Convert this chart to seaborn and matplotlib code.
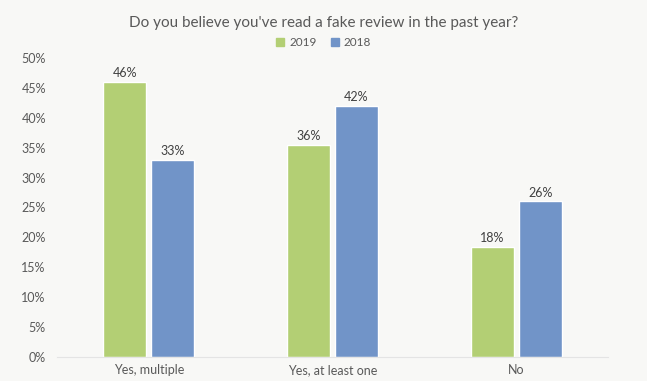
import matplotlib
matplotlib.use("Agg")
import matplotlib.pyplot as plt
import seaborn as sns
import pandas as pd
from matplotlib.ticker import PercentFormatter
from matplotlib.patches import Patch

categories = ["Yes, multiple", "Yes, at least one", "No"]
series_2019 = [0.46, 0.355, 0.184]
series_2018 = [0.33, 0.42, 0.26]
labels_2019 = ["46%", "36%", "18%"]
labels_2018 = ["33%", "42%", "26%"]
years = ["2019", "2018"]

df = pd.DataFrame({
    "cat": categories * 2,
    "val": series_2019 + series_2018,
    "year": [years[0]] * 3 + [years[1]] * 3,
})

bg = "#f8f8f6"
txt = "#595959"
sns.set_theme(style="white")
plt.rcParams["font.family"] = ["Lato", "DejaVu Sans"]

fig = plt.figure(figsize=(6.47, 3.81), dpi=100, facecolor=bg)
ax = fig.add_axes([0.088, 0.063, 0.852, 0.785], facecolor=bg)

palette = {"2019": "#b3cf74", "2018": "#7194c8"}
sns.barplot(data=df, x="cat", y="val", hue="year", order=categories,
            hue_order=years, palette=palette, width=0.52, gap=0.1,
            saturation=1, ax=ax, legend=False)

for cont, labs in zip(ax.containers, [labels_2019, labels_2018]):
    ax.bar_label(cont, labels=labs, padding=2, fontsize=9, color="#404040")

ax.set_xlim(-0.5, 2.5)
ax.set_ylim(0, 0.5)
ax.set_yticks([i * 0.05 for i in range(11)])
ax.yaxis.set_major_formatter(PercentFormatter(1.0, decimals=0))
ax.tick_params(axis="y", labelsize=9, colors=txt, length=0, pad=8)
ax.tick_params(axis="x", labelsize=9, colors=txt, length=0, pad=5)
ax.set_xlabel("")
ax.set_ylabel("")
for s in ["top", "right", "left"]:
    ax.spines[s].set_visible(False)
ax.spines["bottom"].set_color("#e4e4e4")
ax.spines["bottom"].set_linewidth(0.8)

fig.text(0.5, 0.94, "Do you believe you've read a fake review in the past year?",
         ha="center", va="center", fontsize=11, color=txt)

handles = [Patch(color=palette[y]) for y in years]
fig.legend(handles, years, loc="center", bbox_to_anchor=(0.5, 0.888), ncol=2,
           frameon=False, fontsize=8.5, handlelength=0.7, handleheight=0.7,
           handletextpad=0.4, columnspacing=1.2, labelcolor=txt)

fig.savefig("out.png", dpi=100, facecolor=bg)
